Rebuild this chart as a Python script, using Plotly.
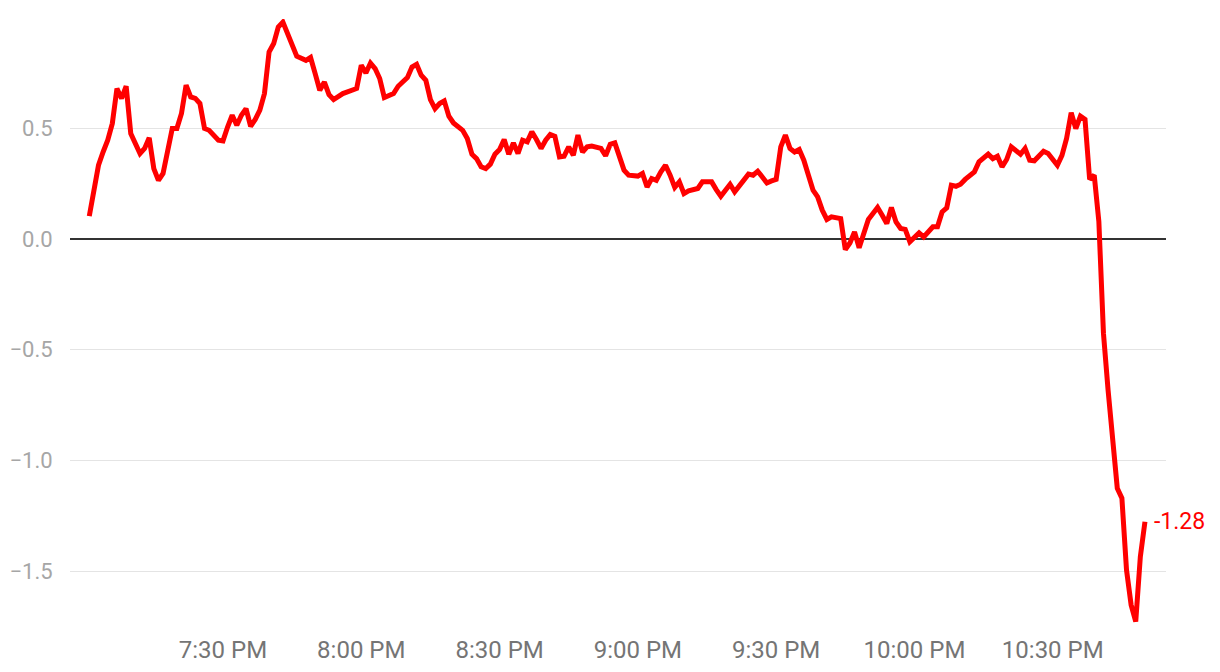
import plotly.graph_objects as go

DAY = "2024-01-01 "

times = [
    "19:01", "19:02", "19:03", "19:04", "19:05", "19:06", "19:07", "19:08", "19:09", "19:10",
    "19:12", "19:13", "19:14", "19:15", "19:16", "19:17", "19:18", "19:19", "19:20", "19:21",
    "19:22", "19:23", "19:24", "19:25", "19:26", "19:27", "19:29", "19:30", "19:31", "19:32",
    "19:33", "19:34", "19:35", "19:36", "19:37", "19:38", "19:39", "19:40", "19:41", "19:42",
    "19:43", "19:44", "19:45", "19:46", "19:48", "19:49", "19:50", "19:51", "19:52", "19:53",
    "19:54", "19:56", "19:59", "20:00", "20:01", "20:02", "20:03", "20:04", "20:05", "20:07",
    "20:08", "20:09", "20:10", "20:11", "20:12", "20:13", "20:14", "20:15", "20:16", "20:17",
    "20:18", "20:19", "20:20", "20:22", "20:23", "20:24", "20:25", "20:26", "20:27", "20:28",
    "20:29", "20:30", "20:31", "20:32", "20:33", "20:34", "20:35", "20:36", "20:37", "20:38",
    "20:39", "20:40", "20:41", "20:42", "20:43", "20:44", "20:45", "20:46", "20:47", "20:48",
    "20:49", "20:50", "20:52", "20:53", "20:54", "20:55", "20:56", "20:57", "20:58", "21:00",
    "21:01", "21:02", "21:03", "21:04", "21:05", "21:06", "21:07", "21:08", "21:09", "21:10",
    "21:11", "21:13", "21:14", "21:16", "21:17", "21:18", "21:19", "21:20", "21:21", "21:22",
    "21:23", "21:24", "21:25", "21:26", "21:27", "21:28", "21:29", "21:30", "21:31", "21:32",
    "21:33", "21:34", "21:35", "21:36", "21:37", "21:38", "21:39", "21:40", "21:41", "21:42",
    "21:44", "21:45", "21:46", "21:47", "21:48", "21:49", "21:50", "21:51", "21:52", "21:53",
    "21:54", "21:55", "21:56", "21:57", "21:58", "21:59", "22:00", "22:01", "22:02", "22:03",
    "22:04", "22:05", "22:06", "22:07", "22:08", "22:09", "22:10", "22:11", "22:13", "22:14",
    "22:15", "22:16", "22:17", "22:18", "22:19", "22:20", "22:21", "22:22", "22:23", "22:24",
    "22:25", "22:26", "22:27", "22:28", "22:29", "22:30", "22:31", "22:32", "22:33", "22:34",
    "22:35", "22:36", "22:37", "22:38", "22:39", "22:40", "22:41", "22:42", "22:43", "22:44",
    "22:45", "22:46", "22:47", "22:48", "22:49", "22:50",
]

values = [
    0.104, 0.221, 0.334, 0.394, 0.447, 0.523, 0.681, 0.636, 0.691, 0.477,
    0.387, 0.410, 0.458, 0.319, 0.266, 0.297, 0.402, 0.500, 0.500, 0.568,
    0.696, 0.643, 0.636, 0.613, 0.500, 0.492, 0.447, 0.444, 0.507, 0.560,
    0.515, 0.560, 0.590, 0.510, 0.541, 0.583, 0.658, 0.846, 0.884, 0.959,
    0.981, 0.929, 0.869, 0.827, 0.808, 0.821, 0.748, 0.673, 0.710, 0.653,
    0.631, 0.658, 0.681, 0.786, 0.751, 0.796, 0.771, 0.726, 0.640, 0.658,
    0.691, 0.714, 0.730, 0.778, 0.790, 0.741, 0.718, 0.631, 0.590, 0.613,
    0.625, 0.556, 0.525, 0.492, 0.455, 0.384, 0.364, 0.327, 0.319, 0.339,
    0.384, 0.405, 0.450, 0.384, 0.435, 0.387, 0.447, 0.440, 0.485, 0.450,
    0.410, 0.447, 0.473, 0.465, 0.372, 0.375, 0.417, 0.379, 0.470, 0.394,
    0.417, 0.421, 0.410, 0.377, 0.429, 0.435, 0.379, 0.312, 0.289, 0.285,
    0.297, 0.236, 0.274, 0.266, 0.304, 0.334, 0.289, 0.234, 0.259, 0.206,
    0.218, 0.229, 0.259, 0.259, 0.224, 0.194, 0.221, 0.248, 0.214, 0.239,
    0.270, 0.294, 0.289, 0.307, 0.281, 0.254, 0.263, 0.270, 0.417, 0.470,
    0.410, 0.394, 0.405, 0.357, 0.289, 0.221, 0.191, 0.131, 0.089, 0.101,
    0.093, -0.047, -0.017, 0.033, -0.039, 0.026, 0.089, 0.116, 0.143, 0.108,
    0.071, 0.143, 0.078, 0.048, 0.044, -0.012, 0.010, 0.028, 0.010, 0.033,
    0.056, 0.056, 0.123, 0.141, 0.244, 0.239, 0.248, 0.270, 0.304, 0.349,
    0.364, 0.384, 0.364, 0.375, 0.327, 0.360, 0.417, 0.402, 0.384, 0.410,
    0.357, 0.354, 0.375, 0.397, 0.387, 0.364, 0.334, 0.379, 0.455, 0.571,
    0.500, 0.556, 0.541, 0.270, 0.289, 0.080, -0.426, -0.682, -0.900, -1.126,
    -1.171, -1.495, -1.653, -1.728, -1.435, -1.277,
]

tick_times = ["19:30", "20:00", "20:30", "21:00", "21:30", "22:00", "22:30"]
tick_labels = ["7:30 PM", "8:00 PM", "8:30 PM", "9:00 PM", "9:30 PM", "10:00 PM", "10:30 PM"]
y_ticks = [-1.5, -1.0, -0.5, 0.0, 0.5]

x = [DAY + t for t in times]
FONT = "Roboto"
RED = "#ff0000"

fig = go.Figure()
fig.add_trace(go.Scatter(
    x=x, y=values, mode="lines",
    line=dict(color=RED, width=5, shape="linear"),
    hoverinfo="x+y", showlegend=False,
))

fig.add_annotation(
    x=x[-1], y=values[-1], text=f"{values[-1]:.2f}",
    showarrow=False, xanchor="left", yanchor="middle", xshift=7,
    font=dict(family=FONT, size=23, color=RED),
)

fig.update_layout(
    width=1220, height=672,
    margin=dict(l=70, r=54, t=19, b=39, autoexpand=False),
    paper_bgcolor="white", plot_bgcolor="white",
    font=dict(family=FONT),
    xaxis=dict(
        type="date",
        range=[DAY + "18:56:49", DAY + "22:54:34"],
        tickvals=[DAY + t for t in tick_times],
        ticktext=tick_labels,
        showgrid=False, zeroline=False, showline=False,
        ticks="", automargin=False,
        tickfont=dict(family=FONT, size=24, color="#757575"),
    ),
    yaxis=dict(
        range=[-1.78, 0.995],
        tickvals=y_ticks,
        tickformat=".1f",
        showgrid=True, gridcolor="#e4e4e4", gridwidth=1,
        zeroline=True, zerolinecolor="#333333", zerolinewidth=1.5,
        showline=False, automargin=False,
        ticks="outside", ticklen=12, tickcolor="rgba(0,0,0,0)",
        tickfont=dict(family=FONT, size=22, color="#a6a6a6"),
    ),
)

fig.write_html("out.html", config={"displayModeBar": False},
               post_script="document.body.style.margin='0';")
